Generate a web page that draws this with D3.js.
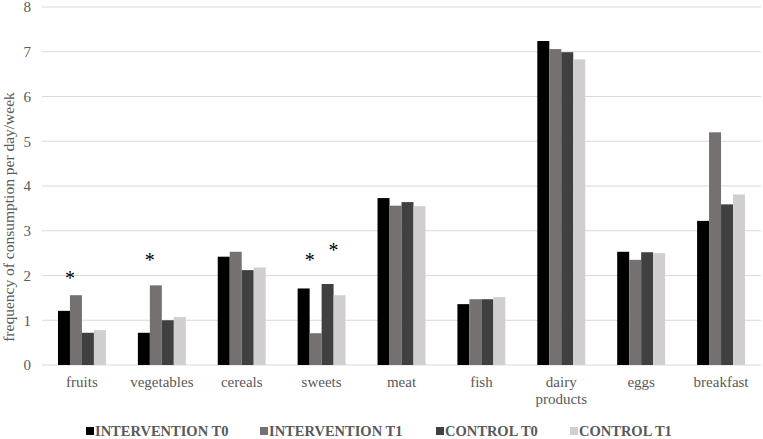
<!DOCTYPE html>
<html><head><meta charset="utf-8">
<script src="https://cdn.jsdelivr.net/npm/d3@7"></script>
<style>body{margin:0;background:#fff}svg{display:block}</style>
</head><body>
<script>
const categories = ["fruits","vegetables","cereals","sweets","meat","fish","dairy products","eggs","breakfast"];
const seriesNames = ["INTERVENTION T0","INTERVENTION T1","CONTROL T0","CONTROL T1"];
const interventionT0 = [1.21,0.72,2.42,1.71,3.73,1.36,7.24,2.53,3.22];
const interventionT1 = [1.56,1.78,2.53,0.71,3.56,1.47,7.06,2.35,5.20];
const controlT0      = [0.72,1.00,2.12,1.81,3.64,1.47,6.99,2.52,3.59];
const controlT1      = [0.78,1.07,2.18,1.56,3.55,1.52,6.83,2.50,3.81];
const yTicks = [0,1,2,3,4,5,6,7,8];
// significance markers: category, boundary after bar index, height in axis units
const stars = [
  {cat:"fruits", bar:0, v:2.0},
  {cat:"vegetables", bar:0, v:2.38},
  {cat:"sweets", bar:0, v:2.4},
  {cat:"sweets", bar:2, v:2.62}
];
const colors = ["#000000","#767171","#404040","#d0cece"];
const series = [interventionT0, interventionT1, controlT0, controlT1];

const W=763,H=439;
const font="Liberation Serif, serif";
const svg=d3.select("body").append("svg").attr("width",W).attr("height",H).attr("font-family",font);
const m={l:42,r:2,t:7,b:74};
const x=d3.scaleBand().domain(categories).range([m.l,W-m.r]).paddingInner(0.4).paddingOuter(0.2);
const x1=d3.scaleBand().domain(d3.range(4)).range([0,x.bandwidth()]);
const y=d3.scaleLinear().domain([0,8]).range([H-m.b,m.t]);

svg.append("g").selectAll("line").data(yTicks).join("line")
  .attr("x1",m.l).attr("x2",W-m.r).attr("y1",d=>y(d)).attr("y2",d=>y(d))
  .attr("stroke","#d9d9d9").attr("stroke-width",1.2);

const ya=svg.append("g").attr("transform",`translate(${m.l},0)`)
  .call(d3.axisLeft(y).tickValues(yTicks).tickSize(0).tickPadding(11));
ya.attr("font-family",font).attr("font-size",15);
ya.select(".domain").remove();
ya.selectAll("text").attr("font-family",font).attr("font-size",15).attr("fill","#595959");

const g=svg.append("g");
series.forEach((vals,si)=>{
  g.append("g").selectAll("rect").data(vals).join("rect")
    .attr("x",(d,i)=>x(categories[i])+x1(si))
    .attr("width",x1.bandwidth())
    .attr("y",d=>y(d)).attr("height",d=>y(0)-y(d))
    .attr("fill",colors[si]);
});

const xa=svg.append("g").attr("transform",`translate(0,${y(0)})`)
  .call(d3.axisBottom(x).tickSize(0).tickPadding(11));
xa.attr("font-family",font).attr("font-size",15);
xa.select(".domain").remove();
xa.selectAll("text").attr("font-family",font).attr("font-size",15).attr("fill","#595959")
  .each(function(d){
    const t=d3.select(this); const words=d.split(" ");
    if(words.length>1){
      t.text(null);
      words.forEach((w,i)=>t.append("tspan").attr("x",0).attr("dy",i===0?"0.71em":"1.15em").text(w));
    }
  });

svg.append("g").selectAll("text").data(stars).join("text")
  .attr("x",d=>x(d.cat)+x1(d.bar)+x1.bandwidth())
  .attr("y",d=>y(d.v)+9)
  .attr("text-anchor","middle").attr("font-family",font).attr("font-size",20).attr("fill","#000")
  .text("*");

svg.append("text").attr("transform",`translate(14,217) rotate(-90)`)
  .attr("text-anchor","middle").attr("font-family",font).attr("font-size",15.5).attr("fill","#595959")
  .text("frequency of consumption per day/week");

const legX=[86,260,436,570];
const lg=svg.append("g").selectAll("g").data(seriesNames).join("g")
  .attr("transform",(d,i)=>`translate(${legX[i]},431)`);
lg.append("rect").attr("x",0).attr("y",-4).attr("width",8).attr("height",8).attr("fill",(d,i)=>colors[i]);
lg.append("text").attr("x",9).attr("y",5).attr("font-family",font).attr("font-weight","bold")
  .attr("font-size",14.5).attr("fill","#595959").text(d=>d);
</script>
</body></html>
